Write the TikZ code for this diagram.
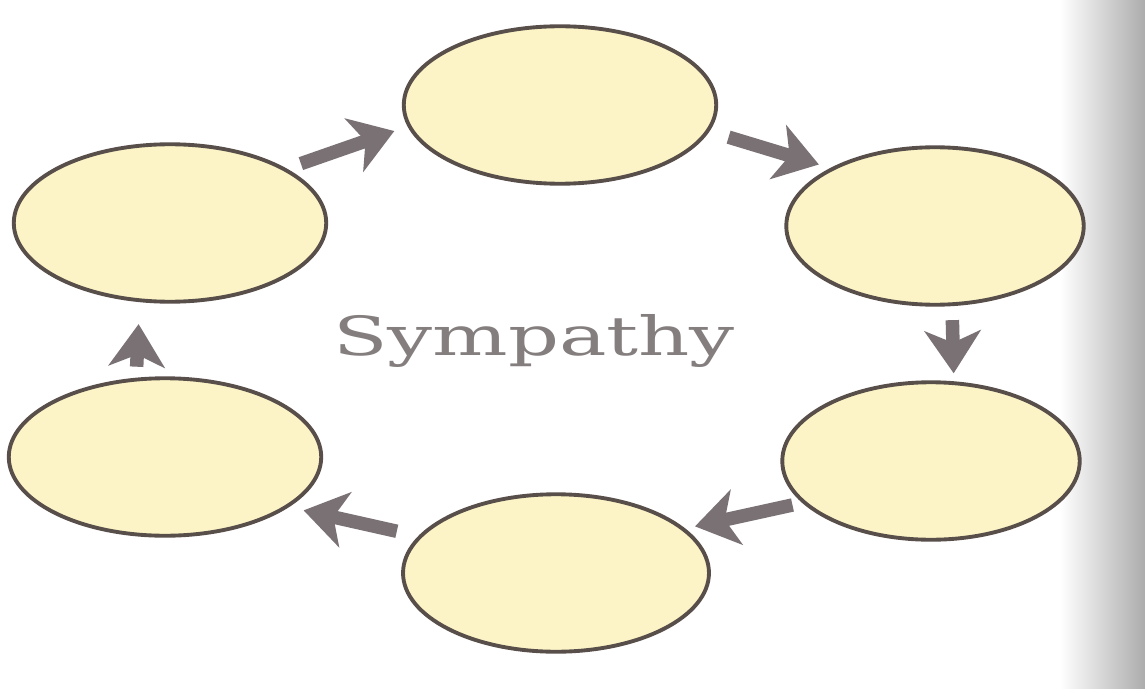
\documentclass[tikz,border=0pt]{standalone}
\usepackage{fontspec}
\usepackage{graphicx}
\newfontfamily\titlefont{DejaVu Serif}
\usetikzlibrary{shapes.geometric,arrows.meta}
\definecolor{eggfill}{RGB}{252,244,198}
\definecolor{eggline}{RGB}{88,78,74}
\definecolor{arrowgray}{RGB}{122,113,116}
\definecolor{titlegray}{RGB}{132,126,126}
\tikzset{
  egg/.style={ellipse, draw=eggline, line width=2.2pt, fill=eggfill,
              minimum width=6.25cm, minimum height=3.15cm, inner sep=0pt},
  eggnarrow/.style={egg, minimum width=5.95cm},
  flow/.style={draw=arrowgray, line width=0.27cm,
               -{Stealth[length=0.85cm, width=1.12cm, inset=0.24cm]}},
  titletext/.style={inner sep=0pt, text=titlegray, font=\titlefont},
}

\begin{document}
\begin{tikzpicture}[x=0.02cm, y=-0.02cm]
  % page, with the binding shadow at the right edge
  \useasboundingbox (0,0) rectangle (1145,689);
  \fill[white] (0,0) rectangle (1145,689);
  \shade[left color=white, right color=gray!65] (1060,0) rectangle (1145,689);
  % the six ovals, clockwise from the top
  \node[egg] (top) at (560,105) {};
  \node[eggnarrow] (ur) at (935,226) {};
  \node[eggnarrow] (lr) at (931,461) {};
  \node[egg, minimum width=6.12cm] (bot) at (556,573) {};
  \node[egg] (ll) at (165,457) {};
  \node[egg] (ul) at (170,223) {};
  % centre word
  \node[titletext] (title) at (534,341) {\resizebox*{8.04cm}{1.06cm}{Sympathy}};
  % arrows round the ring
  \draw[flow, shorten <=0.3cm, shorten >=0.28cm] (ul.25) -- (top.188);
  \draw[flow, shorten <=0.4cm, shorten >=0.24cm] (top.350) -- (ur.151);
  \draw[flow, shorten <=0.28cm, shorten >=0.16cm] (ur.282) -- (lr.74);
  \draw[flow, shorten <=0.2cm, shorten >=0.2cm] (lr.198) -- (bot.19);
  \draw[flow, shorten <=0.44cm, shorten >=0.3cm] (bot.165) -- (ll.338);
  \draw[flow, shorten <=0.22cm, shorten >=0.44cm] (ll.110) -- (ul.249);
\end{tikzpicture}
\end{document}
